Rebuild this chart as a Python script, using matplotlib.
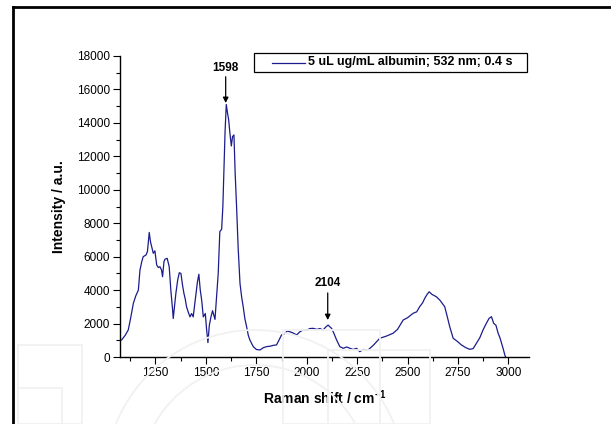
import matplotlib
matplotlib.use("Agg")
import matplotlib.pyplot as plt
from matplotlib.lines import Line2D
from matplotlib.patches import Rectangle, Arc
import numpy as np

plt.rcParams['font.family'] = ['Liberation Sans', 'DejaVu Sans']
plt.rcParams['mathtext.fontset'] = 'custom'
plt.rcParams['mathtext.rm'] = 'Liberation Sans'
plt.rcParams['mathtext.bf'] = 'Liberation Sans:bold'

# Raman spectrum
raman_shift = [1075, 1082, 1100, 1115, 1128, 1140, 1152, 1165, 1173, 1182, 1189, 1196, 1203, 1210,
               1219, 1225, 1231, 1239, 1247, 1256, 1264, 1272, 1280, 1285, 1292, 1297, 1308,
               1318, 1326, 1335, 1338, 1345, 1351, 1360, 1368, 1376, 1384, 1391, 1397, 1404,
               1412, 1421, 1429, 1437, 1444, 1451, 1458, 1465, 1472, 1479, 1487, 1497, 1503,
               1510, 1517, 1525, 1533, 1539, 1545, 1553, 1561, 1569, 1578, 1584, 1589, 1595,
               1601, 1607, 1613, 1619, 1626, 1632, 1639, 1645, 1652, 1660, 1669, 1677, 1685,
               1693, 1702, 1710, 1718, 1727, 1735, 1750, 1768, 1785, 1801, 1820, 1835, 1850,
               1862, 1875, 1890, 1903, 1916, 1930, 1950, 1965, 1982, 2000, 2015, 2032, 2050,
               2065, 2081, 2095, 2106, 2115, 2123, 2135, 2148, 2164, 2181, 2198, 2214, 2230,
               2247, 2263, 2280, 2304, 2330, 2362, 2395, 2428, 2450, 2478, 2500, 2527, 2545,
               2560, 2575, 2585, 2597, 2607, 2620, 2643, 2660, 2684, 2697, 2709, 2726, 2745,
               2767, 2790, 2808, 2825, 2841, 2858, 2874, 2890, 2904, 2916, 2927, 2938, 2949,
               2958, 2966, 2975, 2982, 2986]
intensity = [1000, 1020, 1300, 1620, 2400, 3200, 3650, 4000, 5200, 5700, 6000, 6050, 6100, 6300,
             7450, 6900, 6600, 6200, 6350, 5500, 5350, 5400, 5200, 4800, 5700, 5850, 5900,
             5400, 4000, 2800, 2300, 3100, 3800, 4600, 5040, 5000, 4300, 3800, 3500, 3000,
             2700, 2400, 2600, 2400, 3100, 3800, 4500, 4950, 4000, 3400, 2400, 2600, 1700,
             860, 1900, 2400, 2770, 2500, 2250, 3600, 5000, 7500, 7640, 9000, 11000, 13500,
             15100, 14600, 14170, 13380, 12620, 13180, 13280, 11000, 9000, 6500, 4400, 3600, 3000,
             2300, 1800, 1300, 1020, 800, 620, 450, 420, 560, 620, 650, 700, 720,
             1000, 1320, 1400, 1550, 1510, 1450, 1320, 1500, 1615, 1600, 1700, 1715, 1650,
             1700, 1615, 1800, 1910, 1800, 1715, 1400, 1020, 620, 520, 600, 520, 450,
             520, 320, 450, 420, 700, 1120, 1250, 1420, 1650, 2210, 2350, 2610, 2700,
             3010, 3250, 3510, 3750, 3900, 3750, 3600, 3400, 3010, 2400, 1810, 1120, 950,
             720, 550, 460, 500, 820, 1150, 1615, 2000, 2310, 2410, 2010, 1900, 1420,
             1150, 820, 450, 120, 0]

series_label = '5 uL ug/mL albumin; 532 nm; 0.4 s'
peak_positions = [1598, 2104]
peak_labels = ['1598', '2104']
peak_tip = [15190, 2210]
x_ticks = [1250, 1500, 1750, 2000, 2250, 2500, 2750, 3000]
y_ticks = [0, 2000, 4000, 6000, 8000, 10000, 12000, 14000, 16000, 18000]

W, H = 611, 424
fig = plt.figure(figsize=(W / 100, H / 100), dpi=100)
line_color = '#1c1c8c'

# faint watermark shapes
wm = '#f1f1f1'
def fig_rect(x0, y0, x1, y1):
    fig.patches.append(Rectangle((x0 / W, 1 - y1 / H), (x1 - x0) / W, (y1 - y0) / H,
                                 transform=fig.transFigure, fill=False, ec=wm, lw=1.3, zorder=0))
fig_rect(18, 345, 82, 424)
fig_rect(18, 388, 62, 424)
fig_rect(283, 330, 380, 424)
fig_rect(328, 350, 430, 424)
fig.patches.append(Arc((255 / W, 1 - 480 / H), 300 / W, 300 / H, theta1=20, theta2=180,
                       transform=fig.transFigure, ec=wm, lw=1.3, zorder=0))
fig.patches.append(Arc((255 / W, 1 - 480 / H), 230 / W, 230 / H, theta1=30, theta2=180,
                       transform=fig.transFigure, ec=wm, lw=1.3, zorder=0))

# outer frame lines (left and top)
fig.lines.append(Line2D([13 / W, 13 / W], [0, 1 - 7 / H], transform=fig.transFigure,
                        color='black', lw=2))
fig.lines.append(Line2D([13 / W, 1], [1 - 7 / H, 1 - 7 / H], transform=fig.transFigure,
                        color='black', lw=2))

ax = fig.add_axes([120 / W, 1 - 357 / H, 409 / W, 301 / H])
ax.patch.set_alpha(0)
ax.plot(raman_shift, intensity, color=line_color, lw=0.9, label=series_label)

ax.set_xlim(1074, 3102)
ax.set_ylim(0, 18000)
ax.set_xticks(x_ticks)
ax.set_yticks(y_ticks)
ax.set_xticks(np.arange(1125, 3101, 250), minor=True)
ax.set_yticks(np.arange(1000, 18000, 2000), minor=True)
ax.tick_params(which='major', direction='out', length=5, width=0.8, labelsize=8.5, pad=2)
ax.tick_params(which='minor', direction='out', length=3, width=0.8)
for s in ['top', 'right']:
    ax.spines[s].set_visible(False)
for s in ['left', 'bottom']:
    ax.spines[s].set_linewidth(1.0)

ax.set_xlabel('Raman shift / cm$^{\\mathbf{-1}}$', fontsize=10, fontweight='bold', labelpad=7)
ax.set_ylabel('Intensity / a.u.', fontsize=10, fontweight='bold', labelpad=8)

starts = [16760, 3830]
text_y = [16950, 4050]
for xp, lab, tip, st, ty in zip(peak_positions, peak_labels, peak_tip, starts, text_y):
    ax.annotate('', xy=(xp, tip), xytext=(xp, st),
                arrowprops=dict(arrowstyle='-|>', color='black', lw=0.9,
                                mutation_scale=8, shrinkA=0, shrinkB=0))
    ax.text(xp, ty, lab, ha='center', va='bottom', fontsize=8.5, fontweight='bold')

# legend box drawn as in the reference (long left padding)
fig.patches.append(Rectangle((254 / W, 1 - 72 / H), 273 / W, 19 / H, transform=fig.transFigure,
                             fill=True, fc='white', ec='black', lw=0.9, zorder=5))
fig.lines.append(Line2D([272 / W, 305 / W], [1 - 62.5 / H, 1 - 62.5 / H],
                        transform=fig.transFigure, color=line_color, lw=0.9, zorder=6))
fig.text(308 / W, 1 - 62.5 / H, series_label, ha='left', va='center', fontsize=9,
         fontweight='bold', zorder=6)

fig.savefig('out.png', dpi=100)
